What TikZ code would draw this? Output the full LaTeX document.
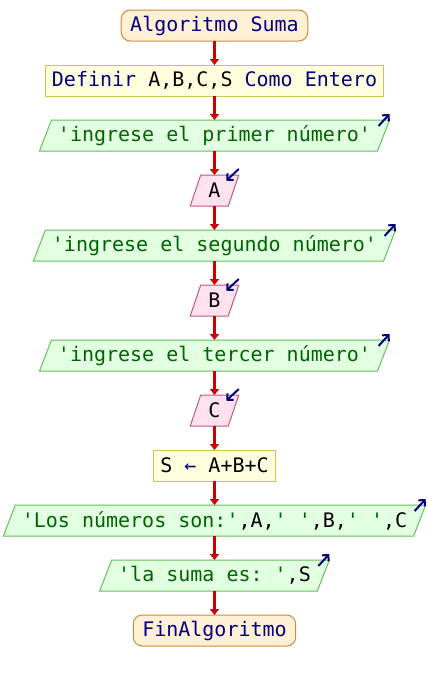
\documentclass[tikz,border=0pt]{standalone}
\usepackage{fontspec}
\setmonofont{DejaVu Sans Mono}
\usepackage{xcolor}
\usetikzlibrary{arrows.meta,positioning,backgrounds}

\definecolor{azul}{RGB}{0,0,128}
\definecolor{verdetxt}{RGB}{0,100,0}
\definecolor{rojo}{RGB}{204,0,0}
\definecolor{fondoini}{RGB}{255,240,214}
\definecolor{bordeini}{RGB}{200,140,60}
\definecolor{fondoproc}{RGB}{255,255,221}
\definecolor{bordeproc}{RGB}{200,200,80}
\definecolor{fondosal}{RGB}{226,255,226}
\definecolor{bordesal}{RGB}{100,190,90}
\definecolor{fondoent}{RGB}{253,226,238}
\definecolor{bordeent}{RGB}{190,90,130}

\newcommand{\kwd}[1]{\textcolor{azul}{#1}}
\newcommand{\var}[1]{\textcolor{black}{#1}}
% paralelogramo detras del nodo: #1 nodo, #2 inclinacion, #3 estilo
\newcommand{\paralelo}[3]{\begin{scope}[on background layer]
  \draw[#3] ([xshift=-#2/2]#1.south west) -- ([xshift=#2/2]#1.north west) -- ([xshift=#2/2]#1.north east) -- ([xshift=-#2/2]#1.south east) -- cycle;
  \end{scope}}
% flechita de salida y de lectura
\newcommand{\salio}[1]{\draw[icono] ([xshift=-5pt,yshift=-6pt]#1.north east) -- ([xshift=6pt,yshift=6pt]#1.north east);}
\newcommand{\leyo}[1]{\draw[icono] ([xshift=5.25pt,yshift=6pt]#1.north east) -- ([xshift=-7.25pt,yshift=-5.7pt]#1.north east);}

\begin{document}
\frenchspacing
\begin{tikzpicture}[x=1pt,y=1pt,node distance=24pt,font=\ttfamily\fontsize{20}{24}\selectfont]
        \tikzstyle{inicio} = [draw=bordeini, fill=fondoini, line width=1pt, outer sep=0pt, rounded corners=9pt, minimum height=31pt, inner xsep=9pt, text=azul]
        \tikzstyle{proceso} = [draw=bordeproc, fill=fondoproc, line width=1pt, outer sep=0pt, minimum height=31pt, inner xsep=6.5pt, text=black]
        \tikzstyle{salida} = [outer sep=0pt, minimum height=31pt, inner xsep=12.5pt, text=verdetxt]
        \tikzstyle{entrada} = [outer sep=0pt, minimum height=31pt, inner xsep=13pt, text=black]
        \tikzstyle{formasal} = [draw=bordesal, fill=fondosal, line width=1pt]
        \tikzstyle{formaent} = [draw=bordeent, fill=fondoent, line width=1pt]
        \tikzstyle{flecha} = [draw=rojo, line width=2.3pt, -{Triangle[length=6pt,width=9pt]}]
        \tikzstyle{icono} = [draw=azul, line width=2pt, -{Straight Barb[length=4.5pt,width=9pt]}]
        \useasboundingbox (0,0) rectangle (428,-680);

        \node[inicio] (ini) at (214.5,-25.5) {Algoritmo Suma};
        \node[proceso, below = of ini] (def) {\kwd{Definir} A,B,C,S \kwd{Como Entero}};
        \node[salida, below = of def] (esc1) {'ingrese el primer número'};
        \node[entrada, below = of esc1] (leeA) {A};
        \node[salida, below = of leeA] (esc2) {'ingrese el segundo número'};
        \node[entrada, below = of esc2] (leeB) {B};
        \node[salida, below = of leeB] (esc3) {'ingrese el tercer número'};
        \node[entrada, below = of esc3] (leeC) {C};
        \node[proceso, below = of leeC] (suma) {S \kwd{←} A+B+C};
        \node[salida, below = of suma] (esc4) {'Los números son:'\var{,A,}' '\var{,B,}' '\var{,C}};
        \node[salida, below = of esc4] (esc5) {'la suma es: '\var{,S}};
        \node[inicio, below = of esc5] (fin) {FinAlgoritmo};

        \paralelo{esc1}{12pt}{formasal}
        \paralelo{esc2}{12pt}{formasal}
        \paralelo{esc3}{12pt}{formasal}
        \paralelo{esc4}{12pt}{formasal}
        \paralelo{esc5}{12pt}{formasal}
        \paralelo{leeA}{10.5pt}{formaent}
        \paralelo{leeB}{10.5pt}{formaent}
        \paralelo{leeC}{10.5pt}{formaent}

        \draw[flecha] (ini) -- (def);
        \draw[flecha] (def) -- (esc1);
        \draw[flecha] (esc1) -- (leeA);
        \draw[flecha] (leeA) -- (esc2);
        \draw[flecha] (esc2) -- (leeB);
        \draw[flecha] (leeB) -- (esc3);
        \draw[flecha] (esc3) -- (leeC);
        \draw[flecha] (leeC) -- (suma);
        \draw[flecha] (suma) -- (esc4);
        \draw[flecha] (esc4) -- (esc5);
        \draw[flecha] (esc5) -- (fin);

        \salio{esc1}
        \salio{esc2}
        \salio{esc3}
        \salio{esc4}
        \salio{esc5}
        \leyo{leeA}
        \leyo{leeB}
        \leyo{leeC}
\end{tikzpicture}
\end{document}
